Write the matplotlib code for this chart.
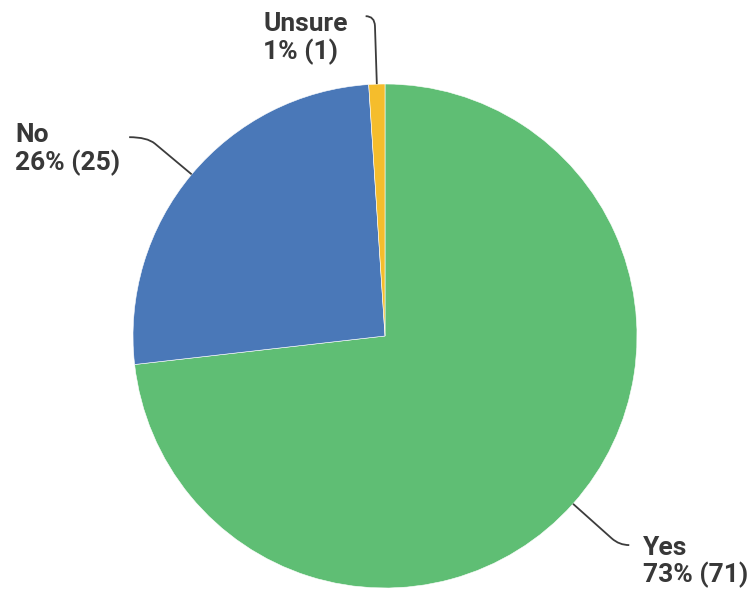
import numpy as np
import matplotlib
matplotlib.use("Agg")
import matplotlib.pyplot as plt
from matplotlib.path import Path
from matplotlib.patches import PathPatch

labels = ["Yes", "No", "Unsure"]
counts = [71, 25, 1]
colors = ["#5fbe74", "#4a78b8", "#f5bd2c"]

W, H = 753, 592
fig = plt.figure(figsize=(W / 100, H / 100), dpi=100)
ax = fig.add_axes([0, 0, 1, 1])

cx, cy, r = 385, 256, 252
wedges, _ = ax.pie(counts, colors=colors, startangle=90, counterclock=False,
                   center=(cx, cy), radius=r, frame=True,
                   wedgeprops=dict(linewidth=0.4, edgecolor="white"))
ax.set_xlim(0, W)
ax.set_ylim(0, H)
ax.set_aspect("equal")
ax.axis("off")

total = sum(counts)
# leader line: radial length, horizontal elbow, text offset (dx, dy), alignment
leaders = {
    "Yes": (62, 10, (14, 9), "left"),
    "No": (58, -18, (-9, 14), "right"),
    "Unsure": (68, -9, (-18, 4), "right"),
}

for w, lab, n in zip(wedges, labels, counts):
    ang = np.deg2rad((w.theta1 + w.theta2) / 2)
    ux, uy = np.cos(ang), np.sin(ang)
    p0 = (cx + r * ux, cy + r * uy)
    L, h, (tdx, tdy), ha = leaders[lab]
    corner = (p0[0] + L * ux, p0[1] + L * uy)
    pre = (p0[0] + (L - 10) * ux, p0[1] + (L - 10) * uy)
    end = (corner[0] + h, corner[1])
    path = Path([p0, pre, corner, end],
                [Path.MOVETO, Path.LINETO, Path.CURVE3, Path.CURVE3])
    ax.add_patch(PathPatch(path, fill=False, edgecolor="#3c3c3c", lw=1.3))
    pct = round(100 * n / total)
    ax.text(end[0] + tdx, end[1] + tdy, f"{lab}\n{pct}% ({n})",
            ha=ha, va="top", multialignment="left", family="Roboto",
            fontweight="bold", fontsize=19, color="#383838", linespacing=1.1)

fig.savefig("out.png", dpi=100, facecolor="white")
